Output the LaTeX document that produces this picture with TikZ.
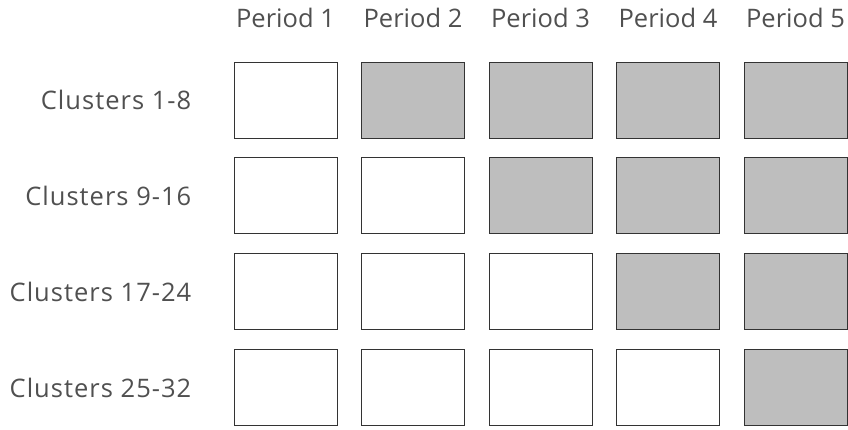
\documentclass[tikz,border=0pt]{standalone}
\usepackage{fontspec}
\setmainfont{Open Sans}
\newfontfamily\rowfont[LetterSpace=4]{Open Sans}
\usetikzlibrary{positioning}

\definecolor{labelgrey}{HTML}{505050}
\definecolor{cellgrey}{HTML}{BEBEBE}
\definecolor{edgegrey}{HTML}{333333}

\begin{document}
\begin{tikzpicture}[x=1pt,y=-1pt,
  cell/.style={draw=edgegrey, line width=1pt, minimum width=103pt, minimum height=76pt, inner sep=0pt},
  lbl/.style={text=labelgrey, font=\fontsize{25.5}{28}\selectfont, inner sep=0pt},
  rowlbl/.style={lbl, font=\rowfont\fontsize{25.5}{28}\selectfont}]
  \useasboundingbox (0,0) rectangle (848,429);

  % grid of cells: grey once the period is past the row's start
  \foreach \r/\y/\txt in {1/100/{Clusters 1-8}, 2/195.5/{Clusters 9-16},
                          3/291.5/{Clusters 17-24}, 4/387.5/{Clusters 25-32}} {
    \foreach \c in {1,...,5} {
      \ifnum\c>\r \def\fc{cellgrey}\else\def\fc{white}\fi
      \node[cell, fill=\fc] (c\r\c) at ({285.5+127.5*(\c-1)},\y) {};
    }
    % row label
    \node[rowlbl, left=42pt of c\r1] (row\r) {\txt};
  }

  % period headings
  \foreach \c in {1,...,5} {
    \node[lbl, above=34pt of c1\c] (per\c) {Period \c};
  }
\end{tikzpicture}
\end{document}
